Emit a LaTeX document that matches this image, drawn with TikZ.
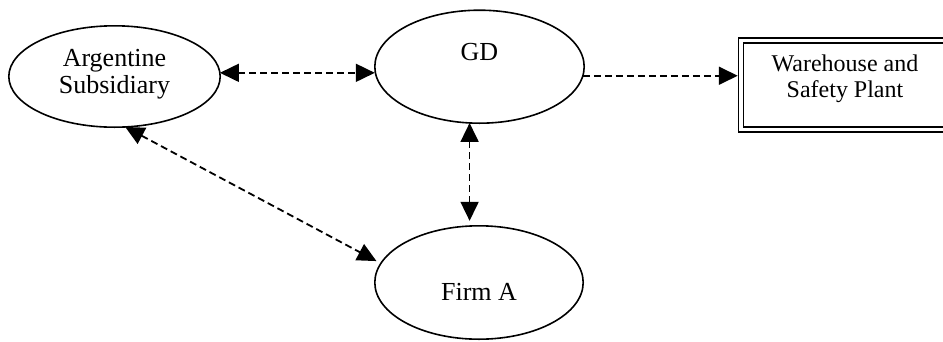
\documentclass[tikz,border=0pt]{standalone}
\usepackage{fontspec}
\setmainfont{Liberation Serif}
\usetikzlibrary{arrows.meta,shapes.geometric}
\begin{document}
\begin{tikzpicture}[x=1pt,y=-1pt,
  >={Triangle[length=19pt,width=18pt]},
  party/.style={draw,ellipse,line width=1.6pt,inner sep=0pt,outer sep=0pt},
  plantbox/.style={draw,double,double distance=3.5pt,line width=1.5pt,
    inner sep=0pt,outer sep=3.25pt,minimum width=208pt,minimum height=89.4pt},
  caption/.style={font=\fontsize{26pt}{26.6pt}\selectfont,align=center,
    inner sep=0pt,anchor=base},
  smallcaption/.style={font=\fontsize{24pt}{26pt}\selectfont,align=center,
    inner sep=0pt,anchor=base},
  link/.style={line width=1.8pt,dash pattern=on 7pt off 4pt}
]
\clip (0,0) rectangle (943,341);

% parties
\node[party,minimum width=211.4pt,minimum height=101.4pt] (arg) at (114.5,76.5) {};
\node[party,minimum width=209.4pt,minimum height=113pt] (gd) at (479.5,66.7) {};
\node[party,minimum width=208.4pt,minimum height=113.4pt] (fa) at (479,282.5) {};
\node[plantbox] (wh) at (845,85) {};

% names (base anchor of a two-line name sits on its last line)
\node[caption] (argname) at (114.5,93.3) {Argentine\\Subsidiary};
\node[caption] (gdname) at (479.5,60) {GD};
\node[caption] (faname) at (479,300) {Firm A};
\node[smallcaption] (whname) at (845,97.7) {Warehouse and\\Safety Plant};

% relations
\draw[link,<->] (arg.2.4) -- (arg.2.4 -| gd.west);
\draw[link,->] (gd.355.3) -- (gd.355.3 -| wh.west);
\draw[link,<->,shorten >=5pt] (gd.260) -- (gd.260 |- fa.north);
\draw[link,<->,shorten >=5pt] (arg.282.2) -- (fa.169.6);
\end{tikzpicture}
\end{document}
